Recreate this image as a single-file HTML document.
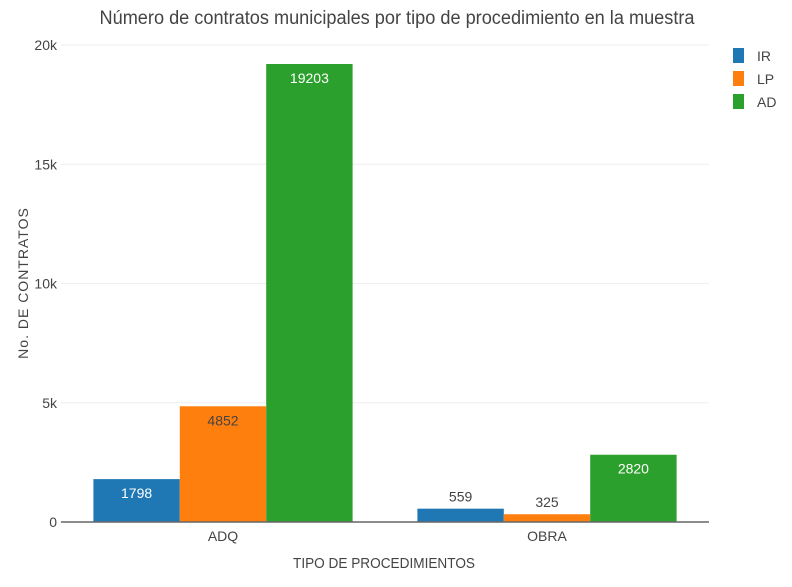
<!DOCTYPE html>
<html><head><meta charset="utf-8"><style>
body{margin:0;background:#fff;}
svg text{font-family:"Liberation Sans Narrow","Liberation Sans",sans-serif;}
</style></head><body>
<svg id="c" width="792" height="582" viewBox="0 0 792 582" xmlns="http://www.w3.org/2000/svg">
<text x="397" y="24" text-anchor="middle" font-size="19" fill="#444" textLength="595" lengthAdjust="spacingAndGlyphs">Número de contratos municipales por tipo de procedimiento en la muestra</text>
<g id="grid"></g><g id="bars"></g><g id="labels"></g>
<text x="384" y="568" text-anchor="middle" font-size="15" fill="#444" textLength="182" lengthAdjust="spacingAndGlyphs">TIPO DE PROCEDIMIENTOS</text>
<text transform="translate(28,283) rotate(-90)" text-anchor="middle" font-size="14" fill="#444" font-family="Liberation Sans,sans-serif" letter-spacing="1">No. DE CONTRATOS</text>
<g id="legend"></g>
</svg>
<script>
const categories=["ADQ","OBRA"];
const seriesNames=["IR","LP","AD"];
const irValues=[1798,559];
const lpValues=[4852,325];
const adValues=[19203,2820];
const yTicks=[0,5000,10000,15000,20000];
const yTickLabels=["0","5k","10k","15k","20k"];
const colors=["#1f77b4","#ff7f0e","#2ca02c"];
const NS="http://www.w3.org/2000/svg";
const X0=61,X1=709,Y0=522,Y20=45;
const y=v=>Y0-(Y0-Y20)*v/20000;
const band=(X1-X0)/categories.length;
const groupW=band*0.8, barW=groupW/3;
function mk(tag,attrs,parent){const e=document.createElementNS(NS,tag);for(const k in attrs)e.setAttribute(k,attrs[k]);parent.appendChild(e);return e;}
const grid=document.getElementById('grid'),bars=document.getElementById('bars'),labels=document.getElementById('labels'),legend=document.getElementById('legend');
yTicks.forEach((t,i)=>{
  if(t>0){const l=mk('line',{x1:X0,x2:X1,y1:y(t),y2:y(t),stroke:'#eee','stroke-width':1},grid);
  
  }
  const tx=mk('text',{x:X0-4,y:y(t)+5,'text-anchor':'end','font-size':14,fill:'#444'},grid);
  tx.textContent=yTickLabels[i];
  
  
});
const all=[irValues,lpValues,adValues];
categories.forEach((c,ci)=>{
  const cx=X0+band*(ci+0.5);
  all.forEach((vals,si)=>{
    const v=vals[ci],bx=cx-groupW/2+si*barW,by=y(v);
    const r=mk('rect',{x:bx,y:by,width:barW,height:Y0-by,fill:colors[si]},bars);
    
    
    const inside=(Y0-by)>30;
    const t=mk('text',{x:bx+barW/2,y:inside?by+19:by-7,'text-anchor':'middle','font-size':14,fill:inside?(si===1?'#444':'#fff'):'#444'},labels);
    t.textContent=v;
    
    
  });
  const xt=mk('text',{x:cx,y:Y0+19,'text-anchor':'middle','font-size':14,fill:'#444'},labels);
  xt.textContent=c;
  
  
});
const ax=mk('line',{x1:X0,x2:X1,y1:Y0,y2:Y0,stroke:'#666','stroke-width':1.5},labels);


seriesNames.forEach((n,i)=>{
  const g=mk('g',{},legend);
  
  
  mk('rect',{x:733,y:48+i*23,width:11,height:15,fill:colors[i]},g);
  const t=mk('text',{x:757,y:61+i*23,'font-size':14,fill:'#444'},g);
  t.textContent=n;
});
</script>
</body></html>
